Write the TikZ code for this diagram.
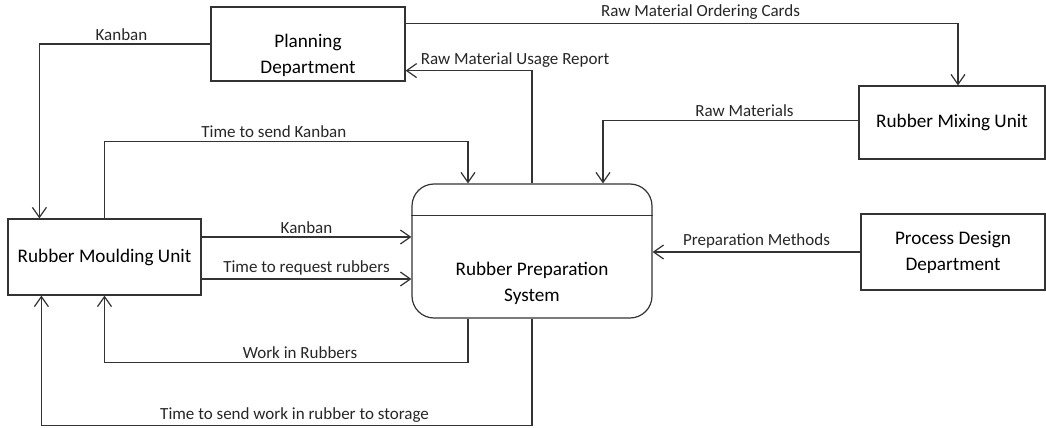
\documentclass[tikz,border=0pt]{standalone}
\usepackage{fontspec}
\setmainfont{Carlito}
\usetikzlibrary{arrows.meta,calc}

\begin{document}
\begin{tikzpicture}[x=0.5pt,y=-0.5pt,
	box/.style={draw=black!80, line width=0.6pt, inner sep=0pt, align=center, font=\fontsize{9.6}{13}\selectfont},
	txt/.style={align=center, inner sep=0pt, font=\fontsize{9.6}{13}\selectfont},
	lbl/.style={above, inner sep=1.5pt, text=black!85, font=\fontsize{8.5}{10}\selectfont},
	flow/.style={draw=black!80, line width=0.6pt, -{Straight Barb[length=5pt,width=7pt]}}]
\useasboundingbox (0,0) rectangle (1046,428);
\node[box, minimum width=97pt, minimum height=37pt] (plan) at (308,44) {};
\node[txt] (plantxt) at (308,55) {Planning\\Department};
\node[box, minimum width=93pt, minimum height=36.5pt] (mix) at (952,122.5) {Rubber Mixing Unit};
\node[box, minimum width=92pt, minimum height=38pt] (pdd) at (953,252) {Process Design\\Department};
\node[box, minimum width=96.5pt, minimum height=38pt] (rmu) at (104.5,257) {Rubber Moulding Unit};
\node[box, rounded corners=11pt, minimum width=120pt, minimum height=67pt] (rps) at (532,251) {};
\node[txt] (rpstxt) at (532,283) {Rubber Preparation\\System};
\draw[black!80, line width=0.6pt] ($(rps.north west)+(0,32)$) -- ($(rps.north east)+(0,32)$);
\draw[flow] (plan.west) -| node[lbl,pos=0.26] (l1) {Kanban} ($(rmu.north west)+(32,0)$);
\draw[flow] ($(plan.north east)+(0,17)$) -| node[lbl,pos=0.267] (l2) {Raw Material Ordering Cards} ($(mix.north)+(6,0)$);
\draw[flow] (rps.north) |- node[lbl,pos=0.567] (l3) {Raw Material Usage Report} ($(plan.south east)+(0,-11)$);
\draw[flow] (rmu.north) -- ++(0,-77) -| node[lbl,pos=0.233] (l4) {Time to send Kanban} ($(rps.north)+(-64,0)$);
\draw[flow] ($(mix.west)+(0,-2)$) -| node[lbl,pos=0.223] (l5) {Raw Materials} ($(rps.north)+(71,0)$);
\coordinate (k1) at ($(rmu.east)+(0,-20)$);
\coordinate (k2) at ($(rmu.east)+(0,22)$);
\draw[flow] (k1) -- node[lbl] (l6) {Kanban} (k1 -| rps.west);
\draw[flow] (k2) -- node[lbl] (l7) {Time to request rubbers} (k2 -| rps.west);
\draw[flow] (pdd.west) -- node[lbl] (l8) {Preparation Methods} (pdd.west -| rps.east);
\draw[flow] ($(rps.south)+(-64,0)$) -- ++(0,44) -| node[lbl,pos=0.231] (l9) {Work in Rubbers} (rmu.south);
\draw[flow] (rps.south) -- ++(0,107) -| node[lbl,pos=0.242] (l10) {Time to send work in rubber to storage} ($(rmu.south west)+(34,0)$);
\end{tikzpicture}
\end{document}
